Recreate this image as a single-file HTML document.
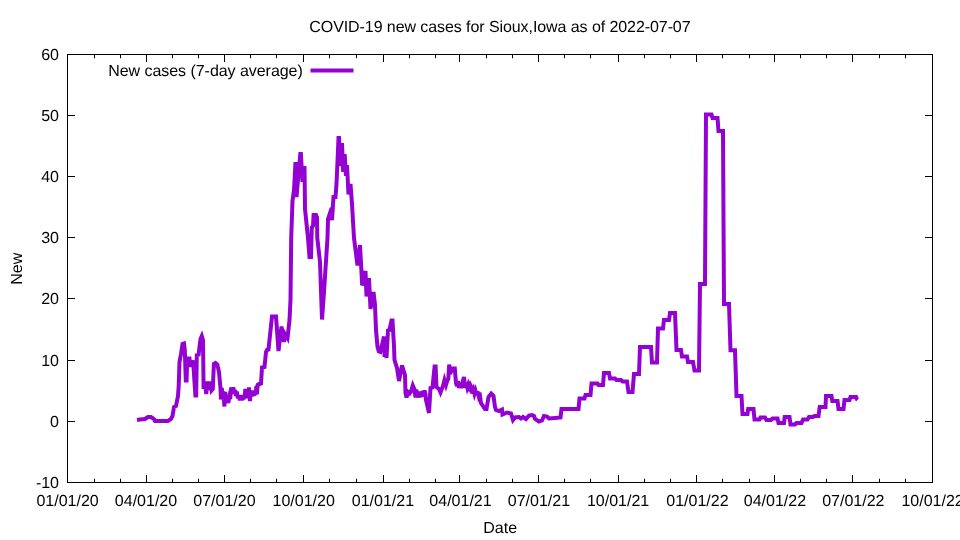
<!DOCTYPE html>
<html><head><meta charset="utf-8"><title>COVID-19 new cases for Sioux,Iowa</title>
<style>
html,body{margin:0;padding:0;background:#fff;width:960px;height:540px;overflow:hidden;font-family:"Liberation Sans",sans-serif}
#plot{position:absolute;left:0;top:0;width:960px;height:540px;will-change:transform;opacity:0.999}
svg{display:block}
text{-webkit-font-smoothing:antialiased;text-rendering:geometricPrecision}
</style></head>
<body>
<div id="plot">
<svg width="960" height="540" viewBox="0 0 960 540">
<g stroke="#000" stroke-width="1" fill="none">
<rect x="67.5" y="54.5" width="865.0" height="428.0"/>
<path d="M67.5,115.5h7.5M932.5,115.5h-7.5M67.5,176.5h7.5M932.5,176.5h-7.5M67.5,237.5h7.5M932.5,237.5h-7.5M67.5,298.5h7.5M932.5,298.5h-7.5M67.5,360.5h7.5M932.5,360.5h-7.5M67.5,421.5h7.5M932.5,421.5h-7.5M146.5,482.5v-7.5M146.5,54.5v7.5M224.5,482.5v-7.5M224.5,54.5v7.5M303.5,482.5v-7.5M303.5,54.5v7.5M383.5,482.5v-7.5M383.5,54.5v7.5M459.5,482.5v-7.5M459.5,54.5v7.5M538.5,482.5v-7.5M538.5,54.5v7.5M618.5,482.5v-7.5M618.5,54.5v7.5M696.5,482.5v-7.5M696.5,54.5v7.5M774.5,482.5v-7.5M774.5,54.5v7.5M852.5,482.5v-7.5M852.5,54.5v7.5M94.5,482.5v-3.75M94.5,54.5v3.75M120.5,482.5v-3.75M120.5,54.5v3.75M172.5,482.5v-3.75M172.5,54.5v3.75M198.5,482.5v-3.75M198.5,54.5v3.75M250.5,482.5v-3.75M250.5,54.5v3.75M276.5,482.5v-3.75M276.5,54.5v3.75M329.5,482.5v-3.75M329.5,54.5v3.75M356.5,482.5v-3.75M356.5,54.5v3.75M409.5,482.5v-3.75M409.5,54.5v3.75M435.5,482.5v-3.75M435.5,54.5v3.75M486.5,482.5v-3.75M486.5,54.5v3.75M512.5,482.5v-3.75M512.5,54.5v3.75M564.5,482.5v-3.75M564.5,54.5v3.75M590.5,482.5v-3.75M590.5,54.5v3.75M644.5,482.5v-3.75M644.5,54.5v3.75M670.5,482.5v-3.75M670.5,54.5v3.75M722.5,482.5v-3.75M722.5,54.5v3.75M749.5,482.5v-3.75M749.5,54.5v3.75M800.5,482.5v-3.75M800.5,54.5v3.75M826.5,482.5v-3.75M826.5,54.5v3.75M879.5,482.5v-3.75M879.5,54.5v3.75M905.5,482.5v-3.75M905.5,54.5v3.75"/>
</g>
<g font-family="Liberation Sans, sans-serif" font-size="16px" fill="#000">
<text x="59" y="59.6" text-anchor="end">60</text>
<text x="59" y="120.6" text-anchor="end">50</text>
<text x="59" y="181.6" text-anchor="end">40</text>
<text x="59" y="242.6" text-anchor="end">30</text>
<text x="59" y="303.6" text-anchor="end">20</text>
<text x="59" y="365.6" text-anchor="end">10</text>
<text x="59" y="426.6" text-anchor="end">0</text>
<text x="59" y="487.6" text-anchor="end">-10</text>
<text x="67.6" y="506" text-anchor="middle">01/01/20</text>
<text x="146.0" y="506" text-anchor="middle">04/01/20</text>
<text x="224.4" y="506" text-anchor="middle">07/01/20</text>
<text x="303.7" y="506" text-anchor="middle">10/01/20</text>
<text x="382.9" y="506" text-anchor="middle">01/01/21</text>
<text x="460.5" y="506" text-anchor="middle">04/01/21</text>
<text x="538.9" y="506" text-anchor="middle">07/01/21</text>
<text x="618.1" y="506" text-anchor="middle">10/01/21</text>
<text x="697.4" y="506" text-anchor="middle">01/01/22</text>
<text x="774.9" y="506" text-anchor="middle">04/01/22</text>
<text x="853.3" y="506" text-anchor="middle">07/01/22</text>
<text x="932.6" y="506" text-anchor="middle">10/01/22</text>
<text x="309.3" y="32.3" textLength="381.3" lengthAdjust="spacing">COVID-19 new cases for Sioux,Iowa as of 2022-07-07</text>
<text x="500.2" y="532.8" text-anchor="middle">Date</text>
<text transform="translate(22,268.8) rotate(-90)" text-anchor="middle">New</text>
<text x="108.2" y="76" textLength="194.6" lengthAdjust="spacing">New cases (7-day average)</text>
</g>
<path d="M310.5,70.5H353.5" stroke="#9400d3" stroke-width="4" fill="none"/>
<path d="M137,420L140,419.5L145,419L148,417L151,417L154,419L155,421L168,421L171,419L172.5,416L174,407L176,406L178,396L178.7,386L179.5,362L181,354L182.5,344L184,343.5L184.8,350L185.8,380.5L186.6,380.5L187.2,358.4L189.5,358.5L190.2,367L191,361.4L193.2,362L195.4,395.5L196.2,395.5L196.8,355L198.6,354.6L200.5,339L201.8,336L203,340L203.6,389L205,381.5L206.2,394L207.3,381.5L208.6,390L209.8,381.5L211.5,390.5L212.8,389L213.9,364L215.5,363L217.3,364.5L219,372L220.4,387L221,399.5L221.8,388L222.6,399.7L223.4,391.5L224.4,406.5L225.3,392L226.3,401.5L227.3,398L228.3,403L229.4,397L230.2,399L231.2,387.3L232.3,393L233.3,387.3L234.3,393.7L235.2,390L236,396L236.8,391.5L237.8,398.3L238.8,395L239.8,400.3L240.8,395L241.8,400.3L242.8,395L243.6,399L244.6,396L245.4,389L246.3,397.5L247,394L248,398L249,387.5L249.9,401L250.8,391L251.8,396.5L252.8,390.5L253.8,396L254.8,390.5L255.6,395L256.4,386L257,394L257.6,385L258,384.5L259.5,384L261,383.5L262,367.5L264.5,367L266,352L267,350L268.5,349.5L272,316.5L276,316.5L278.5,351L281.5,326.5L284,342L285,334L287.5,338L289.5,320L290.5,300L291.2,238L292.5,201L294,190L295.5,162L296.5,197L298,180L300.3,154L300.9,154L302.5,182L304.5,166L305,209L308,238L309.5,257L311,257L311.5,238L311.8,227L313,226L313.6,215L316,215L317,217.5L317.3,238L320,262L322,319.5L324,292L327.5,238L328,219L330,213L332,220L333.5,197L335.5,197L336.5,184L338,150L338.5,138L339,138L340.5,166L342,143L343.2,172L344.7,154L346,176L347,165L348.5,194.5L350.5,184L352,204L354,238L357.5,265.5L360,245L362.2,285.5L365.5,271L366.5,296.5L369,278L370.5,309L373.5,292L375,305L376,330L377.5,347L378.8,351.5L380.3,352L384,336.5L384.6,357L385.6,344L386.5,358L388,330.5L389.5,330L391.5,320.5L392.5,320.5L394,346L394.5,360L397,368L399,381L402,365.5L405,375L405.5,393L406.5,397.5L408,392L409.5,393.5L411,391.5L412.8,385.5L414.5,389.5L415.5,397.5L416.3,389.5L417.3,397.5L418.5,393L419.2,397.5L420.3,391.5L421.5,397L422.5,391L423.5,394.5L424.5,390.5L425.5,394L426,400L429,413L430.5,388L432.5,387.5L434.6,366.5L435.6,366.5L436.5,387L439,389L440.5,392.5L443,386L444.5,380L446,385L447.5,380L448.3,379L449.2,364.5L450.3,374L452,368.5L454.8,368.5L456,383L457,386L458,381L459,388L460,383L461,388L462,384L464,377L465.2,388L466.2,382.5L467.3,387.5L468.3,384.5L469.3,387.5L470.3,385L471.3,387L472.3,393.5L473.5,390L474.5,394L475.5,391L476.5,395L477.5,391.5L478.5,395.5L479.5,392.5L481,403L485,409L486.5,409L488.5,397L491.2,393.5L493.5,396L495,407L496,410L499,411L502,409.5L502.5,414.5L507,412.5L511,413.5L513,420L515,417.5L519,417L521,418.5L523,417L526,419L529,415.5L532,415L534,416L535,419L539,421.5L542,420.5L544,416L547,416.5L549,418.5L555,418L560.5,417.5L561.5,409L578.5,409L579.5,398.5L584.5,398.5L585.5,395L590.5,395L591.5,383.5L597.5,383.5L598.5,385L603,385L604,373L609,373L610,378.5L615,378.5L616.5,380L621,380L622.5,381.5L627,381.5L628.5,392L632.5,392L634,374L639,374L640,347L651,347L652,362.5L657,362.5L658,328.5L663,328.5L664,320L669,320L670,313L675,313L676.5,350L681,350L682,356.5L687,356.5L688,362L693,362L694.5,370.5L699,370.5L700,284L705,284L706,114.5L711.5,114.5L712.5,118L717.5,118L718.5,131L723,131L724,304L729,304L730.5,350.3L735,350.3L736.5,396L741.5,396L742.5,414L747.5,414L748.2,409L753.5,409L754.5,419.5L759.5,419.5L760.5,417.5L765,417.5L766.5,420L771,420L772.5,418.5L777.5,418.5L778.5,423L784,423L784.7,417L789.5,417L790.5,424.5L795,424.5L796.5,423L801.5,423L803,419.5L807.5,419.5L809,417L813,417L814.5,416L818.5,416L819.7,407L825.5,407L826,396L831.5,396L832.3,401L837.5,401L838.5,409L843.5,409L844.5,400L849.5,400L850.5,397L856,397L857,399.5L857.5,400" stroke="#9400d3" stroke-width="4" fill="none" stroke-linejoin="miter" stroke-miterlimit="3.8" stroke-linecap="butt"/>
</svg>
</div>
</body></html>
